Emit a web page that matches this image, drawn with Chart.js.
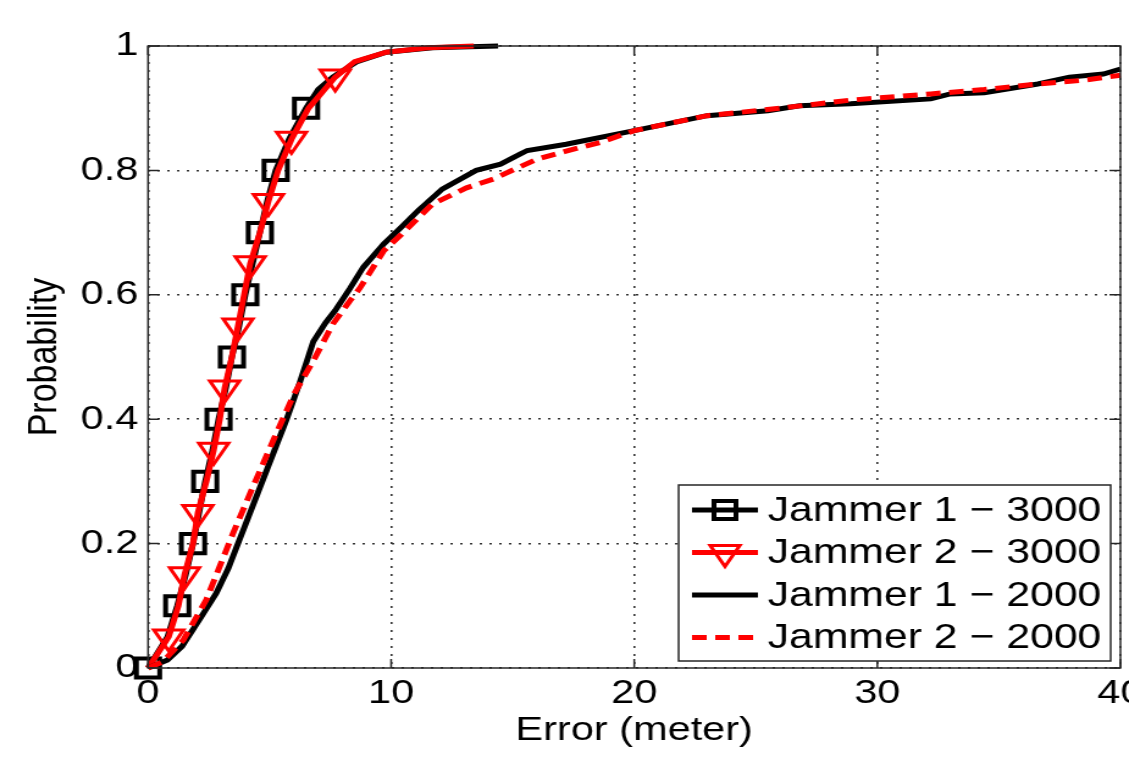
<!DOCTYPE html>
<html>
<head>
<meta charset="utf-8">
<script src="https://cdn.jsdelivr.net/npm/chart.js@4.4.1/dist/chart.umd.min.js"></script>
<style>
  html, body { margin: 0; padding: 0; background: #fff; overflow: hidden; }
  /* the original figure is stretched sideways, so the canvas is too */
  #wrap { width: 925px; height: 758px; transform: scaleX(1.2205); transform-origin: 0 0; }
  #chart { width: 925px; height: 758px; display: block; }
</style>
</head>
<body>
<div id="wrap"><canvas id="chart" width="925" height="758"></canvas></div>
<script>
        // Achsen
        const xTicks = [0, 10, 20, 30, 40];
        const yTicks = [0, 0.2, 0.4, 0.6, 0.8, 1];

        // Jammer 1 - 3000 (schwarz, Quadrate)
        const j1_3000_err  = [0, 0.8, 1.2, 1.55, 1.85, 2.1, 2.35, 2.65, 2.9, 3.2, 3.45, 3.75, 4.0, 4.3, 4.6, 4.9, 5.25, 5.8, 6.5, 7.0, 7.6, 8.6, 9.8, 11.7, 14.4];
        const j1_3000_prob = [0, 0.05, 0.1, 0.15, 0.2, 0.25, 0.3, 0.35, 0.4, 0.45, 0.5, 0.55, 0.6, 0.65, 0.7, 0.75, 0.8, 0.85, 0.9, 0.93, 0.95, 0.975, 0.99, 0.997, 1.0];
        const j1_3000_marks = [0, 0.1, 0.2, 0.3, 0.4, 0.5, 0.6, 0.7, 0.8, 0.9];

        // Jammer 2 - 3000 (rot, Dreiecke)
        const j2_3000_err  = [0, 0.85, 1.25, 1.5, 1.85, 2.05, 2.4, 2.7, 2.95, 3.15, 3.45, 3.7, 3.95, 4.2, 4.6, 4.95, 5.35, 5.9, 6.6, 7.7, 8.5, 9.8, 11.5, 13.4];
        const j2_3000_prob = [0, 0.05, 0.1, 0.15, 0.2, 0.25, 0.3, 0.35, 0.4, 0.45, 0.5, 0.55, 0.6, 0.65, 0.7, 0.75, 0.8, 0.85, 0.9, 0.95, 0.975, 0.99, 0.997, 1.0];
        const j2_3000_marks = [0.05, 0.15, 0.25, 0.35, 0.45, 0.55, 0.65, 0.75, 0.85, 0.95];

        // Jammer 1 - 2000 (schwarz, durchgezogen)
        const j1_2000_err  = [0, 0.8, 1.4, 2.1, 2.8, 3.3, 3.7, 4.1, 4.9, 5.7, 6.25, 6.8, 7.3, 7.7, 8.3, 8.85, 9.7, 10.4, 11.1, 12.1, 13.5, 14.5, 15.3, 15.6, 17.2, 20.0, 23.0, 25.5, 26.8, 28.9, 32.2, 33.0, 34.4, 36.6, 37.9, 39.3, 40];
        const j1_2000_prob = [0, 0.013, 0.035, 0.077, 0.12, 0.16, 0.2, 0.24, 0.32, 0.4, 0.46, 0.525, 0.555, 0.575, 0.61, 0.644, 0.682, 0.708, 0.735, 0.77, 0.8, 0.81, 0.826, 0.832, 0.842, 0.864, 0.888, 0.896, 0.904, 0.907, 0.915, 0.923, 0.925, 0.939, 0.95, 0.955, 0.963];

        // Jammer 2 - 2000 (rot, gestrichelt)
        const j2_2000_err  = [0, 0.6, 1.45, 2.4, 3.5, 4.3, 5.15, 6.0, 6.8, 7.6, 8.3, 8.7, 9.7, 10.5, 11.7, 13.1, 14.2, 15.2, 16.0, 17.2, 18.6, 20.0, 23.0, 26.0, 28.9, 32.2, 34.4, 36.6, 38.5, 40];
        const j2_2000_prob = [0, 0.01, 0.045, 0.11, 0.217, 0.29, 0.366, 0.44, 0.494, 0.553, 0.59, 0.61, 0.671, 0.7, 0.746, 0.772, 0.786, 0.804, 0.818, 0.831, 0.845, 0.864, 0.888, 0.9, 0.913, 0.923, 0.93, 0.939, 0.945, 0.953];

        const seriesNames = ['Jammer 1 \u2212 3000', 'Jammer 2 \u2212 3000', 'Jammer 1 \u2212 2000', 'Jammer 2 \u2212 2000'];

        const FONT = '"Liberation Sans", Arial, Helvetica, sans-serif';

        function toPoints(xs, ys) {
            return xs.map((x, i) => ({ x: x, y: ys[i] }));
        }

        // Marker nur an bestimmten Wahrscheinlichkeiten zeigen
        function markerRadius(probs, marks, r) {
            return ctx => marks.some(m => Math.abs(m - probs[ctx.dataIndex]) < 1e-6) ? r : 0;
        }

        // Rahmen, innere Ticks und Legende im MATLAB-Stil
        const matlabFrame = {
            id: 'matlabFrame',
            afterDatasetsDraw(chart) {
                const { ctx, chartArea: a, scales } = chart;
                const tl = 9;
                ctx.save();
                ctx.strokeStyle = '#262626';
                ctx.lineWidth = 1.5;
                ctx.beginPath();
                xTicks.forEach(v => {
                    const px = scales.x.getPixelForValue(v);
                    ctx.moveTo(px, a.bottom); ctx.lineTo(px, a.bottom - tl);
                    ctx.moveTo(px, a.top); ctx.lineTo(px, a.top + tl);
                });
                yTicks.forEach(v => {
                    const py = scales.y.getPixelForValue(v);
                    ctx.moveTo(a.left, py); ctx.lineTo(a.left + tl, py);
                    ctx.moveTo(a.right, py); ctx.lineTo(a.right - tl, py);
                });
                ctx.stroke();
                ctx.strokeRect(a.left, a.top, a.right - a.left, a.bottom - a.top);
                ctx.restore();
            },
            afterDraw(chart) {
                const ctx = chart.ctx;
                const box = { x: 556, y: 485, w: 354, h: 176 };
                const rowY = [510, 552.5, 595, 637.5];
                const lx0 = 567, lx1 = 621, lxm = 594, tx = 629;
                ctx.save();
                ctx.fillStyle = '#fff';
                ctx.fillRect(box.x, box.y, box.w, box.h);
                ctx.strokeStyle = '#262626';
                ctx.lineWidth = 1.5;
                ctx.strokeRect(box.x, box.y, box.w, box.h);

                chart.data.datasets.forEach((ds, i) => {
                    const y = rowY[i];
                    ctx.strokeStyle = ds.borderColor;
                    ctx.lineWidth = ds.borderWidth;
                    ctx.setLineDash(ds.borderDash || []);
                    ctx.beginPath();
                    ctx.moveTo(lx0, y); ctx.lineTo(lx1, y);
                    ctx.stroke();
                    ctx.setLineDash([]);
                    if (i === 0) {
                        ctx.lineWidth = 4;
                        ctx.strokeRect(lxm - 9, y - 9, 18, 18);
                    } else if (i === 1) {
                        const r = 14;
                        ctx.lineWidth = 3;
                        ctx.beginPath();
                        ctx.moveTo(lxm, y + r);
                        ctx.lineTo(lxm - r * 0.866, y - r / 2);
                        ctx.lineTo(lxm + r * 0.866, y - r / 2);
                        ctx.closePath();
                        ctx.stroke();
                    }
                    ctx.fillStyle = '#000';
                    ctx.font = '35px ' + FONT;
                    ctx.textBaseline = 'middle';
                    ctx.textAlign = 'left';
                    ctx.fillText(seriesNames[i], tx, y + 1);
                });
                ctx.restore();
            }
        };

        const tickFont = { family: FONT, size: 34 };

        new Chart(document.getElementById('chart'), {
            type: 'scatter',
            data: {
                datasets: [
                    {
                        label: seriesNames[0],
                        data: toPoints(j1_3000_err, j1_3000_prob),
                        showLine: true,
                        borderColor: '#000000',
                        borderWidth: 5,
                        pointStyle: 'rect',
                        pointRadius: markerRadius(j1_3000_prob, j1_3000_marks, 13.5),
                        pointBorderWidth: 4,
                        pointBorderColor: '#000000',
                        pointBackgroundColor: 'rgba(0,0,0,0)',
                        order: 4,
                        clip: false
                    },
                    {
                        label: seriesNames[1],
                        data: toPoints(j2_3000_err, j2_3000_prob),
                        showLine: true,
                        borderColor: '#ff0000',
                        borderWidth: 5,
                        pointStyle: 'triangle',
                        rotation: 180,
                        pointRadius: markerRadius(j2_3000_prob, j2_3000_marks, 14),
                        pointBorderWidth: 3,
                        pointBorderColor: '#ff0000',
                        pointBackgroundColor: 'rgba(0,0,0,0)',
                        order: 3,
                        clip: false
                    },
                    {
                        label: seriesNames[2],
                        data: toPoints(j1_2000_err, j1_2000_prob),
                        showLine: true,
                        borderColor: '#000000',
                        borderWidth: 5,
                        pointRadius: 0,
                        order: 2,
                        clip: false
                    },
                    {
                        label: seriesNames[3],
                        data: toPoints(j2_2000_err, j2_2000_prob),
                        showLine: true,
                        borderColor: '#ff0000',
                        borderWidth: 5,
                        borderDash: [12, 7],
                        pointRadius: 0,
                        order: 1,
                        clip: false
                    }
                ]
            },
            options: {
                responsive: false,
                animation: false,
                devicePixelRatio: 1,
                layout: { autoPadding: false, padding: { top: 46, right: 7, bottom: 0, left: 0 } },
                plugins: {
                    legend: { display: false },
                    tooltip: { enabled: false }
                },
                elements: { line: { tension: 0 } },
                scales: {
                    x: {
                        type: 'linear',
                        min: xTicks[0],
                        max: xTicks[xTicks.length - 1],
                        ticks: {
                            stepSize: xTicks[1] - xTicks[0],
                            color: '#000',
                            font: tickFont,
                            padding: 5,
                            maxRotation: 0
                        },
                        grid: { color: '#333', lineWidth: 1.6, drawTicks: false },
                        border: { display: false, dash: [2, 6] },
                        title: {
                            display: true,
                            text: 'Error (meter)',
                            color: '#000',
                            font: { family: FONT, size: 34 },
                            padding: { top: 0, bottom: 7 }
                        },
                        afterFit(scale) {
                            scale.height = 90;
                            scale.paddingRight = 0;
                        }
                    },
                    y: {
                        type: 'linear',
                        min: yTicks[0],
                        max: yTicks[yTicks.length - 1],
                        ticks: {
                            stepSize: yTicks[1] - yTicks[0],
                            color: '#000',
                            font: tickFont,
                            padding: 8,
                            callback: v => String(Number(v.toFixed(2)))
                        },
                        grid: { color: '#333', lineWidth: 1.6, drawTicks: false },
                        border: { display: false, dash: [2, 6] },
                        title: {
                            display: true,
                            text: 'Probability',
                            color: '#000',
                            font: { family: FONT, size: 34 },
                            padding: { top: 16, bottom: 0 }
                        },
                        afterFit(scale) {
                            scale.width = 121.3;
                        }
                    }
                }
            },
            plugins: [matlabFrame]
        });
</script>
</body>
</html>
